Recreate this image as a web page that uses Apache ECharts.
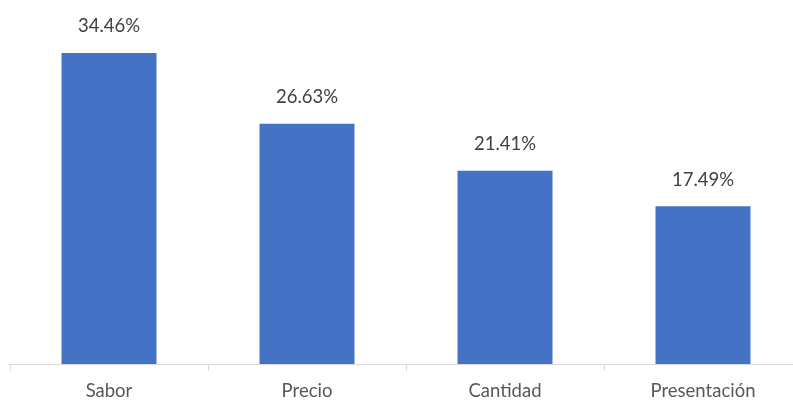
<!DOCTYPE html>
<html>
<head>
<meta charset="utf-8">
<script src="https://cdn.jsdelivr.net/npm/echarts@6/dist/echarts.min.js"></script>
<style>
  html, body { margin: 0; padding: 0; background: #fff; overflow: hidden; }
  /* the plot runs slightly past the right edge of the window */
  #chart { width: 802px; height: 401px; }
</style>
</head>
<body>
<div id="chart"></div>
<script>
// Categories and percentage shares
const categories = ['Sabor', 'Precio', 'Cantidad', 'Presentación'];
const shares = [34.46, 26.63, 21.41, 17.49];

const chart = echarts.init(document.getElementById('chart'), null, { renderer: 'canvas' });
chart.setOption({
  animation: false,
  grid: { left: 10, top: 3, right: 0, bottom: 37, containLabel: false },
  xAxis: {
    type: 'category',
    data: categories,
    axisLine: { lineStyle: { color: '#D9D9D9', width: 1 } },
    axisTick: { show: true, length: 7, lineStyle: { color: '#D9D9D9' } },
    axisLabel: { color: '#595959', fontFamily: 'Lato', fontSize: 18.5, margin: 18 }
  },
  yAxis: {
    type: 'value',
    min: 0,
    max: 40,
    show: false,
    splitLine: { show: false }
  },
  series: [{
    type: 'bar',
    data: shares,
    barWidth: 95,
    itemStyle: { color: '#4472C4' },
    label: {
      show: true,
      position: 'top',
      distance: 17,
      color: '#404040',
      fontFamily: 'Lato',
      fontSize: 18.5,
      formatter: p => p.value.toFixed(2) + '%'
    }
  }]
});
</script>
</body>
</html>
